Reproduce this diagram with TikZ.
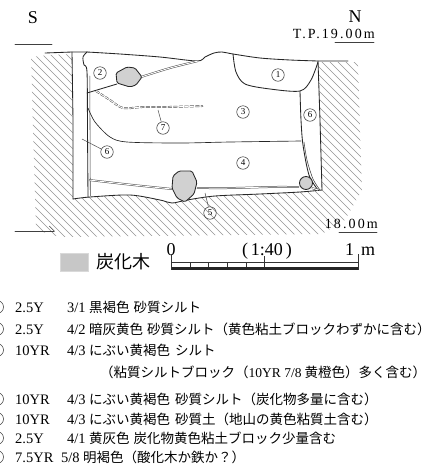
\documentclass[tikz,border=0pt]{standalone}
\usepackage{fontspec}
\setmainfont{Liberation Serif}
\newfontfamily\jp{Noto Sans CJK JP}
\usetikzlibrary{arrows.meta}

\tikzset{
  ln/.style={draw=black!85, line width=0.85pt, line join=round, line cap=round},
  thinln/.style={draw=black!75, line width=0.55pt, line join=round, line cap=round},
  dbl/.style={draw=black!70, double=white, double distance=0.9pt, line width=0.5pt},
  hatchln/.style={draw=black!42, line width=0.5pt},
  stone/.style={ln, fill=black!18, rounded corners=1.5pt},
  num/.style={circle, draw=black!80, line width=0.5pt, minimum size=12.5pt,
              inner sep=0pt, font=\fontsize{9}{9}\selectfont},
  lead/.style={draw=black!70, line width=0.5pt},
  lat/.style={anchor=base west, inner sep=0pt, font=\fontsize{14.5}{14}\selectfont},
  jtx/.style={anchor=base west, inner sep=0pt, font=\jp\fontsize{13.5}{14}\selectfont},
  lnum/.style={circle, draw=black!80, line width=0.5pt, minimum size=13pt, inner sep=0pt},
}

\begin{document}
\begin{tikzpicture}[x=1pt,y=-1pt]
\clip (0,0) rectangle (435,472);
\fill[white] (0,0) rectangle (435,472);

% ---- natural ground (hatched) around the pit ----
\begin{scope}
  \clip (31,57) -- (50,55) -- (72,54)
    -- plot[smooth] coordinates {(73,199)(90,197)(130,195)(160,200)(172,203)(187,200)(215,196)(260,194)(300,192)(322,190)}
    -- (318,62) -- (358,62) -- (362,190) -- (345,220) -- (322,234) -- (60,237) -- (36,230) -- cycle;
  \foreach \i in {-260,-252,...,360} \draw[hatchln] (\i,40) -- ++(210,210);
\end{scope}

% ---- pit outline ----
\draw[ln] (45,53) -- (72,52) -- (87,52);
\draw[ln] plot[smooth] coordinates {(87,52)(120,54)(160,57)(197,61)(205,57)(214,53)(222,52)(233,54)(260,58)(290,60)(318,61)} -- (348,61);
\draw[ln] (72,52) -- (73,120) -- (73,199);
\draw[ln] plot[smooth] coordinates {(73,199)(90,197)(130,195)(160,200)(172,203)(187,200)(215,196)(260,194)(300,192)(322,190)};
\draw[ln] (318,61) -- (320,120) -- (322,190);

% ---- layer boundaries ----
% layer 1 bowl
\draw[ln] plot[smooth] coordinates {(233,54)(236,72)(245,84)(270,89)(300,91)(311,80)(318,62)};
% right strip (layer 6)
\draw[ln] plot[smooth] coordinates {(300,91)(301,120)(303,145)(309,175)(318,190)};
\draw[thinln] plot[smooth] coordinates {(304,142)(307,160)(313,179)(320,190)};
% left strip (layer 6)
\draw[ln] plot[smooth] coordinates {(87,52)(83,57)(84,65)(87,72)(87.5,130)(88,197)};
\draw[thinln] (89.8,76) -- (90.3,196);
% layer 2
\draw[ln] (87,93) -- (117,84);
\draw[dbl] plot[smooth] coordinates {(141,77)(170,68)(198,61)};
% layer 3 / 4
\draw[ln, line width=0.65pt] plot[smooth] coordinates {(88,108)(95,122)(110,137)(127,142)(180,143)(230,142)(301,141)};
% layer 5 top
\draw[dbl] plot[smooth] coordinates {(89,180)(133,185)(172,189)};
\draw[dbl] plot[smooth] coordinates {(197,188)(233,188)(270,187)(299,187)};
\draw[dbl] (312,188) -- (318,190);
% layer 7 (dashed double)
\draw[dbl, dash pattern=on 4pt off 1.5pt] plot[smooth] coordinates {(96,91)(110,100)(123,108)(143,107)(167,107)(203,106)};

% ---- charred wood / stones ----
\draw[stone] (116,73) -- (127,67) -- (135,68) -- (142,77) -- (136,85) -- (130,87) -- (117,83) -- cycle;
\draw[stone] (173,176) -- (179,171) -- (192,171) -- (197,182) -- (194,194) -- (185,202) -- (177,198) -- (172,188) -- cycle;
\draw[ln, fill=black!18] (306,183) circle (6.5);

% ---- layer numbers ----
\node[num] (n1) at (278,75) {1};
\node[num] (n2) at (100,73) {2};
\node[num] (n3) at (243,112) {3};
\node[num] (n4) at (243,163) {4};
\node[num] (n5) at (210,213) {5};
\node[num] (n6r) at (310,115) {6};
\node[num] (n6l) at (107,152) {6};
\node[num] (n7) at (163,128) {7};
\coordinate (p7) at (158,110);
\coordinate (p6) at (82,139);
\coordinate (p5) at (205,193);
\draw[lead] (n7) -- (p7);
\draw[lead] (n6l) -- (p6);
\draw[lead] (n5) -- (p5);

% ---- orientation and levels ----
\node[anchor=base, inner sep=0pt, font=\fontsize{18}{18}\selectfont] (s) at (33,23) {S};
\node[anchor=base, inner sep=0pt, font=\fontsize{18}{18}\selectfont] (nn) at (355,22) {N};
\coordinate (sa) at (15,44); \coordinate (sb) at (52,44);
\draw[thinln] (sa) -- (sb);
\node[anchor=base east, inner sep=0pt, font=\addfontfeature{LetterSpace=15}\fontsize{14}{14}\selectfont] (tp) at (375,38) {T.P.19.00m};
\coordinate (ua) at (335,42); \coordinate (ub) at (374,42);
\draw[thinln] (ua) -- (ub);
\node[anchor=base east, inner sep=0pt, font=\addfontfeature{LetterSpace=15}\fontsize{14}{14}\selectfont] (lv) at (378,228) {18.00m};
\coordinate (va) at (339,232); \coordinate (vb) at (377,232);
\draw[thinln] (va) -- (vb);
\coordinate (aa) at (15,231); \coordinate (ab) at (55,231);
\draw[thinln, -{Straight Barb[left, length=5pt]}] (aa) -- (ab);

% ---- legend: charred wood and scale ----
\node[draw=black!15, fill=black!22, minimum width=28pt, minimum height=18pt, inner sep=0pt] (key) at (74,262) {};
\node[anchor=west, inner sep=0pt, font=\jp\fontsize{18}{18}\selectfont] (keyt) at (96,262) {炭化木};

\node[anchor=base, inner sep=0pt, font=\fontsize{18}{18}\selectfont] (s0) at (171,255) {0};
\node[anchor=base, inner sep=0pt, font=\fontsize{18}{18}\selectfont] (sr) at (267,255) {(\,1:40\,)};
\node[anchor=base west, inner sep=0pt, font=\fontsize{18}{18}\selectfont] (s1) at (345,255) {1\hspace{7pt}m};
\draw[line width=0.5pt, black!80] (171,262) -- (358,262);
\draw[line width=2.6pt, black!85] (171,268.5) -- (358,268.5);
\draw[line width=0.7pt, black!80] (171,254) -- (171,270) (358,254) -- (358,270) (264,256) -- (264,267);
\foreach \t in {190,208,227,246} \draw[line width=0.5pt, black!80] (\t,262) -- (\t,267);

% ---- legend: layers ----
\foreach \yy/\k in {307/1,329/2,350/3,399/4,419/5,438/6,457/7}
  \node[lnum] at (-3,\yy) {};

\node[lat] at (15,312) {2.5Y};  \node[lat] at (67,312) {3/1};
\node[jtx] at (89,312) {黒褐色\hspace{4pt}砂質シルト};

\node[lat] at (15,334) {2.5Y};  \node[lat] at (67,334) {4/2};
\node[jtx] at (89,334) {暗灰黄色\hspace{4pt}砂質シルト（黄色粘土ブロックわずかに含む）};

\node[lat] at (15,355) {10YR};  \node[lat] at (67,355) {4/3};
\node[jtx] at (89,355) {にぶい黄褐色\hspace{5pt}シルト};
\node[jtx] at (100,377) {（粘質シルトブロック（{\rmfamily 10YR 7/8} 黄橙色）多く含む）};

\node[lat] at (15,404) {10YR};  \node[lat] at (67,404) {4/3};
\node[jtx] at (89,404) {にぶい黄褐色\hspace{5pt}砂質シルト（炭化物多量に含む）};

\node[lat] at (15,424) {10YR};  \node[lat] at (67,424) {4/3};
\node[jtx] at (89,424) {にぶい黄褐色\hspace{5pt}砂質土（地山の黄色粘質土含む）};

\node[lat] at (15,443) {2.5Y};  \node[lat] at (67,443) {4/1};
\node[jtx] at (89,443) {黄灰色\hspace{4pt}炭化物黄色粘土ブロック少量含む};

\node[lat] at (15,462) {7.5YR}; \node[lat] at (61,462) {5/8};
\node[jtx] at (83,462) {明褐色（酸化木か鉄か？）};

\end{tikzpicture}
\end{document}
